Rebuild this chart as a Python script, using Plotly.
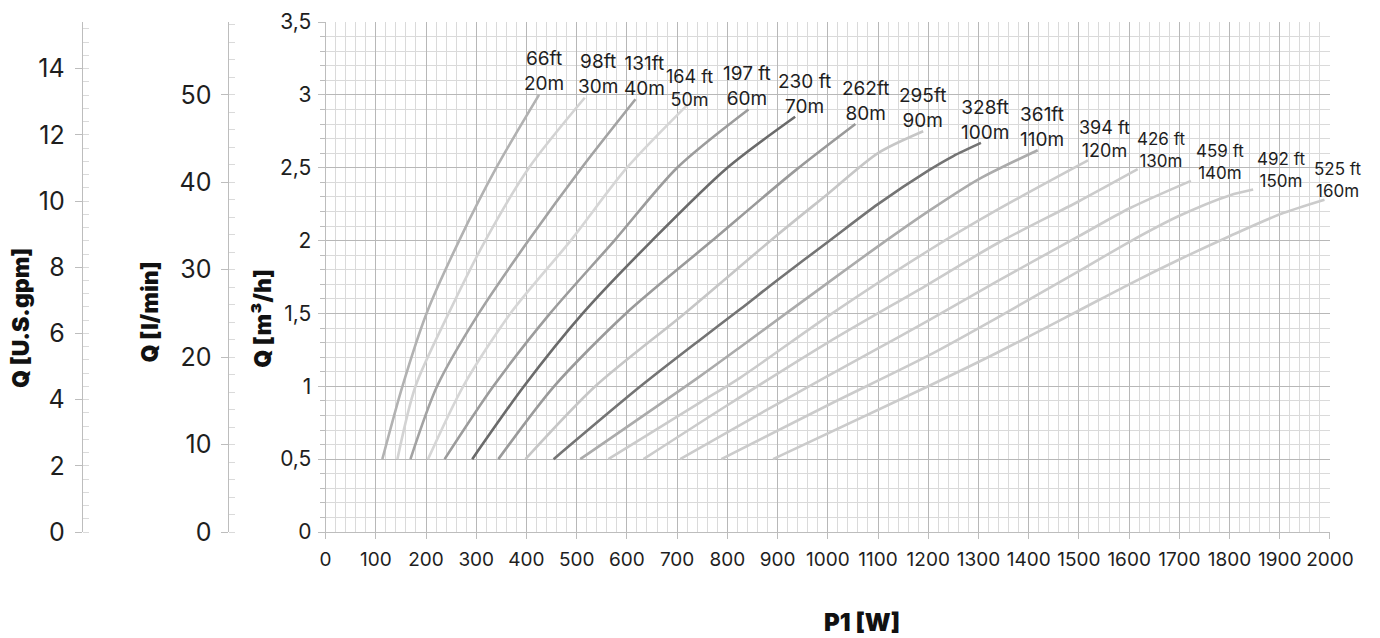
import plotly.graph_objects as go

# ---------------- data (P1 [W] vs Q [m3/h]) ----------------
heads_m = ["20m", "30m", "40m", "50m", "60m", "70m", "80m", "90m",
           "100m", "110m", "120m", "130m", "140m", "150m", "160m"]
heads_ft = ["66ft", "98ft", "131ft", "164 ft", "197 ft", "230 ft", "262ft", "295ft",
            "328ft", "361ft", "394 ft", "426 ft", "459 ft", "492 ft", "525 ft"]

w_20 = [113, 153, 201, 266, 340, 425]
q_20 = [0.5, 1.0, 1.5, 2.0, 2.5, 3.0]
w_30 = [143, 179, 245, 318, 405, 516]
q_30 = [0.5, 1.0, 1.5, 2.0, 2.5, 2.98]
w_40 = [169, 222, 305, 404, 510, 617]
q_40 = [0.5, 1.0, 1.5, 2.0, 2.5, 2.97]
w_50 = [204, 274, 368, 488, 600, 720]
q_50 = [0.5, 1.0, 1.5, 2.0, 2.5, 2.93]
w_60 = [237, 334, 447, 575, 700, 842]
q_60 = [0.5, 1.0, 1.5, 2.0, 2.5, 2.90]
w_70 = [292, 395, 512, 650, 800, 935]
q_70 = [0.5, 1.0, 1.5, 2.0, 2.5, 2.85]
w_80 = [344, 455, 598, 770, 935, 1055]
q_80 = [0.5, 1.0, 1.5, 2.0, 2.48, 2.80]
w_90 = [398, 537, 715, 900, 1000, 1100, 1190]
q_90 = [0.5, 1.0, 1.5, 2.04, 2.32, 2.6, 2.75]
w_100 = [454, 627, 746, 826, 900, 1000, 1100, 1200, 1250, 1305]
q_100 = [0.5, 1.0, 1.32, 1.53, 1.73, 1.99, 2.25, 2.48, 2.58, 2.67]
w_110 = [507, 746, 826, 1000, 1100, 1200, 1300, 1418]
q_110 = [0.5, 1.07, 1.27, 1.71, 1.96, 2.2, 2.42, 2.62]
w_120 = [563, 746, 826, 1000, 1200, 1337, 1518]
q_120 = [0.5, 0.89, 1.06, 1.48, 1.93, 2.21, 2.55]
w_130 = [633, 800, 1000, 1200, 1337, 1500, 1617]
q_130 = [0.5, 0.87, 1.30, 1.70, 1.98, 2.27, 2.49]
w_140 = [706, 900, 1100, 1200, 1337, 1500, 1600, 1723]
q_140 = [0.5, 0.88, 1.26, 1.45, 1.72, 2.03, 2.22, 2.41]
w_150 = [788, 1000, 1200, 1337, 1500, 1600, 1700, 1800, 1847]
q_150 = [0.5, 0.87, 1.21, 1.47, 1.79, 1.99, 2.17, 2.31, 2.35]
w_160 = [891, 1200, 1337, 1500, 1600, 1700, 1800, 1900, 1989]
q_160 = [0.5, 1.0, 1.23, 1.52, 1.70, 1.87, 2.03, 2.18, 2.28]

x_ticks = list(range(0, 2001, 100))
y_ticks = [0, 0.5, 1, 1.5, 2, 2.5, 3, 3.5]
y_ticktext = ["0", "0,5", "1", "1,5", "2", "2,5", "3", "3,5"]

LPM_PER_M3H = 1000 / 60
GPM_PER_M3H = 4.40287
Q_MAX = 3.5

# ---------------- styles ----------------
curves_w = [w_20, w_30, w_40, w_50, w_60, w_70, w_80, w_90, w_100, w_110,
            w_120, w_130, w_140, w_150, w_160]
curves_q = [q_20, q_30, q_40, q_50, q_60, q_70, q_80, q_90, q_100, q_110,
            q_120, q_130, q_140, q_150, q_160]
colors = ["#b2b2b2", "#d3d3d3", "#a3a3a3", "#d6d6d6", "#9c9c9c", "#6b6b6b",
          "#9a9a9a", "#c6c6c6", "#747474", "#ababab", "#cbcbcb", "#cbcbcb",
          "#cbcbcb", "#cbcbcb", "#cbcbcb"]
label_xshift = [5, 13, 9, 2, -1, 9, 11, 0, 4, 4, 17, 23, 29, 28, 14]
label_yshift = [-2, -2, -3, -7, -3, -3, -3, -3, -3, -3, -3, -4, -4, -3, -3]
label_size = [19, 19, 19, 18, 19, 19, 19, 19, 19, 19, 18, 17, 17, 17, 17]

FONT = "Inter, Open Sans, sans-serif"
TXT = "#1e1e1e"

# page offset (browser body margin) compensation
OFF = 8
FIG_W, FIG_H = 1372, 630
M_R = 50
M_T = 22 - OFF
M_B = FIG_H + OFF - 532
W_PAPER = FIG_W - M_R
H_PLOT = 510.0


def px_x(p):
    return (p - OFF) / W_PAPER


def px_y(p):
    return (532 - p) / H_PLOT


fig = go.Figure()
for w, q, c in zip(curves_w, curves_q, colors):
    fig.add_trace(go.Scatter(x=w, y=q, mode="lines",
                             line=dict(color=c, width=2.6, shape="spline", smoothing=0.8),
                             hoverinfo="skip", showlegend=False))

# empty traces so the extra unit axes are drawn
fig.add_trace(go.Scatter(x=[], y=[], yaxis="y2", showlegend=False, hoverinfo="skip"))
fig.add_trace(go.Scatter(x=[], y=[], yaxis="y3", showlegend=False, hoverinfo="skip"))

for w, q, ft, m, dx, dy, fs in zip(curves_w, curves_q, heads_ft, heads_m,
                                   label_xshift, label_yshift, label_size):
    fig.add_annotation(x=w[-1], y=q[-1], xref="x", yref="y",
                       text=f"{ft}<br>{m}", showarrow=False,
                       xanchor="center", yanchor="bottom",
                       xshift=dx, yshift=dy, align="center",
                       font=dict(family=FONT, size=fs, color=TXT))

title_font = dict(family=FONT, size=23, color="#111111", weight=900)
for text, px, py in [("Q [U.S.gpm]", 15, 318), ("Q [l/min]", 145, 312), ("Q [m³/h]", 258, 318)]:
    fig.add_annotation(x=px_x(px), y=px_y(py), xref="paper", yref="paper",
                       text=text, textangle=-90, showarrow=False,
                       xanchor="center", yanchor="middle", font=title_font)
fig.add_annotation(x=px_x(860), y=px_y(622), xref="paper", yref="paper",
                   text="P1 [W]", showarrow=False, xanchor="center", yanchor="middle",
                   font=dict(family=FONT, size=24, color="#111111", weight=900))

MAJ = "#b8b8b8"
MIN = "#dadada"
AX = "#bdbdbd"

fig.update_layout(
    width=FIG_W, height=FIG_H,
    margin=dict(l=0, r=M_R, t=M_T, b=M_B),
    paper_bgcolor="white", plot_bgcolor="white",
    font=dict(family=FONT, color=TXT),
    xaxis=dict(domain=[px_x(321), 1], range=[0, 2000], tickmode="array",
               tickvals=x_ticks, ticktext=[str(v) for v in x_ticks],
               showgrid=True, gridcolor=MAJ, gridwidth=1,
               minor=dict(dtick=20, tick0=0, showgrid=True, gridcolor=MIN, gridwidth=1),
               showline=True, linecolor=AX, ticks="outside", ticklen=6, tickcolor=AX,
               zeroline=False, tickfont=dict(family=FONT, size=19, color=TXT),
               ticklabelstandoff=4, fixedrange=True),
    yaxis=dict(range=[0, Q_MAX], tickmode="array", tickvals=y_ticks, ticktext=y_ticktext,
               showgrid=True, gridcolor=MAJ, gridwidth=1,
               minor=dict(dtick=0.1, tick0=0, showgrid=True, gridcolor=MIN, gridwidth=1,
                          ticks="outside", ticklen=5, tickcolor=AX),
               showline=True, linecolor=AX, ticks="outside", ticklen=7, tickcolor=AX,
               zeroline=False, tickfont=dict(family=FONT, size=21, color=TXT),
               ticklabelstandoff=2, fixedrange=True),
    yaxis2=dict(range=[0, Q_MAX * LPM_PER_M3H], overlaying="y", anchor="free",
                position=px_x(222.5), side="left", dtick=10, tick0=0,
                showgrid=False, zeroline=False, showline=True, linecolor=AX,
                ticks="outside", ticklen=7, tickcolor=AX,
                minor=dict(dtick=2, tick0=0, ticks="inside", ticklen=6, tickcolor=MIN, showgrid=False),
                tickfont=dict(family=FONT, size=25, color=TXT), ticklabelstandoff=4,
                fixedrange=True),
    yaxis3=dict(range=[0, Q_MAX * GPM_PER_M3H], overlaying="y", anchor="free",
                position=px_x(76), side="left", dtick=2, tick0=0,
                showgrid=False, zeroline=False, showline=True, linecolor=AX,
                ticks="outside", ticklen=7, tickcolor=AX,
                minor=dict(dtick=0.4, tick0=0, ticks="inside", ticklen=6, tickcolor=MIN, showgrid=False),
                tickfont=dict(family=FONT, size=25, color=TXT), ticklabelstandoff=5,
                fixedrange=True),
)

fig.write_html("out.html")
